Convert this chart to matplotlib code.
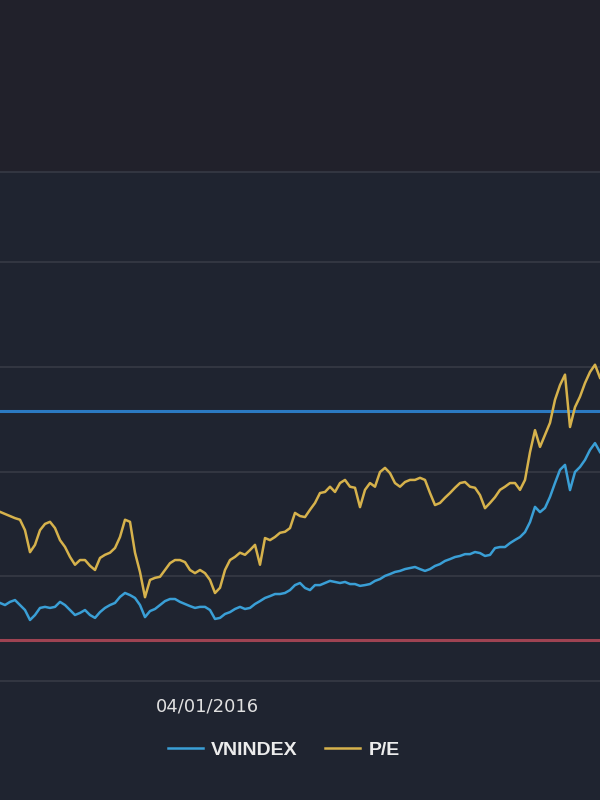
import pandas as pd
import matplotlib
matplotlib.use("Agg")
import matplotlib.pyplot as plt
from matplotlib.lines import Line2D

# P/E ratio and VNINDEX (~10.5 days apart)
pe = [13.23, 13.19, 13.15, 13.11, 13.08, 12.88, 12.46, 12.60, 12.88, 13.00,
      13.04, 12.92, 12.69, 12.56, 12.37, 12.22, 12.31, 12.31, 12.20, 12.12,
      12.35, 12.41, 12.45, 12.54, 12.75, 13.08, 13.04, 12.45, 12.08, 11.60,
      11.93, 11.97, 11.99, 12.12, 12.25, 12.31, 12.31, 12.27, 12.12, 12.06,
      12.12, 12.06, 11.93, 11.68, 11.78, 12.12, 12.31, 12.37, 12.45, 12.41,
      12.50, 12.60, 12.22, 12.73, 12.69, 12.75, 12.83, 12.85, 12.92, 13.21,
      13.15, 13.13, 13.27, 13.40, 13.59, 13.61, 13.71, 13.61, 13.78, 13.84,
      13.71, 13.69, 13.32, 13.65, 13.78, 13.71, 13.99, 14.07, 13.97, 13.78,
      13.71, 13.80, 13.84, 13.84, 13.88, 13.84, 13.59, 13.36, 13.40, 13.50,
      13.59, 13.69, 13.78, 13.80, 13.71, 13.69, 13.55, 13.30, 13.40, 13.51,
      13.65, 13.71, 13.78, 13.78, 13.65, 13.84, 14.37, 14.79, 14.47, 14.70,
      14.93, 15.37, 15.65, 15.85, 14.85, 15.23, 15.43, 15.69, 15.90, 16.04,
      15.79]

vnindex = [590, 582, 594, 601, 582, 563, 525, 544, 571, 575,
           571, 575, 594, 582, 563, 544, 552, 563, 544, 533,
           555, 571, 582, 590, 613, 628, 620, 609, 582, 536,
           559, 567, 582, 597, 605, 605, 594, 586, 578, 571,
           575, 575, 563, 529, 533, 548, 555, 567, 575, 567,
           571, 586, 597, 609, 616, 624, 624, 628, 639, 658,
           666, 647, 639, 658, 658, 666, 674, 670, 666, 670,
           662, 662, 655, 658, 662, 674, 681, 693, 700, 708,
           712, 719, 723, 727, 719, 712, 719, 731, 738, 750,
           757, 765, 769, 776, 776, 784, 780, 769, 773, 799,
           803, 803, 818, 830, 841, 860, 898, 956, 936, 952,
           994, 1047, 1097, 1116, 1020, 1089, 1108, 1135, 1173, 1199,
           1165]

dates = pd.date_range("2014-10-26", periods=len(pe), freq="252h")
pe_upper = 15.16
pe_lower = 10.78
tick_dates = [pd.Timestamp("2016-01-04")]
tick_labels = ["04/01/2016"]
series_names = ["VNINDEX", "P/E"]

c_pe = "#d6b24c"
c_vn = "#3a9fd6"
c_grid = "#363a45"

fig = plt.figure(figsize=(6, 8), dpi=100, facecolor="#21212b")
fig.patches.append(plt.Rectangle((0, 0), 1, 0.785, transform=fig.transFigure,
                                 color="#1f2430", zorder=-1))

ax = fig.add_axes([0, 0.14875, 1, 0.63625])
ax.set_facecolor("none")
ax.set_ylim(10, 19.72)
ax.set_yticks([12, 14, 16, 18])
ax.grid(axis="y", color=c_grid, linewidth=1.2)
ax.tick_params(axis="y", length=0, labelleft=False)
for s in ["left", "right"]:
    ax.spines[s].set_visible(False)
for s in ["top", "bottom"]:
    ax.spines[s].set_color(c_grid)
    ax.spines[s].set_linewidth(1.2)

ax.axhline(pe_upper, color="#2b7ac2", linewidth=2.2, zorder=2)
ax.axhline(pe_lower, color="#9e4352", linewidth=2.2, zorder=2)
ax.plot(dates, pe, color=c_pe, linewidth=1.8, zorder=3)

ax2 = ax.twinx()
ax2.set_ylim(292.6, 2231.9)
ax2.plot(dates, vnindex, color=c_vn, linewidth=1.8)
ax2.axis("off")

ax.set_xlim(dates[0], dates[-1])
ax.set_xticks(tick_dates)
ax.set_xticklabels(tick_labels)
ax.tick_params(axis="x", length=0, pad=12, labelsize=13, labelcolor="#e0e0e0")

handles = [Line2D([], [], color=c_vn, linewidth=1.8),
           Line2D([], [], color=c_pe, linewidth=1.8)]
leg = fig.legend(handles, series_names, loc="center", bbox_to_anchor=(0.473, 0.0625),
                 ncol=2, frameon=False, handlelength=1.8,
                 handletextpad=0.45, columnspacing=1.4,
                 prop={"family": "Liberation Sans", "weight": "bold", "size": 14})
for t in leg.get_texts():
    t.set_color("#ececec")

fig.savefig("out.png", dpi=100, facecolor=fig.get_facecolor())
